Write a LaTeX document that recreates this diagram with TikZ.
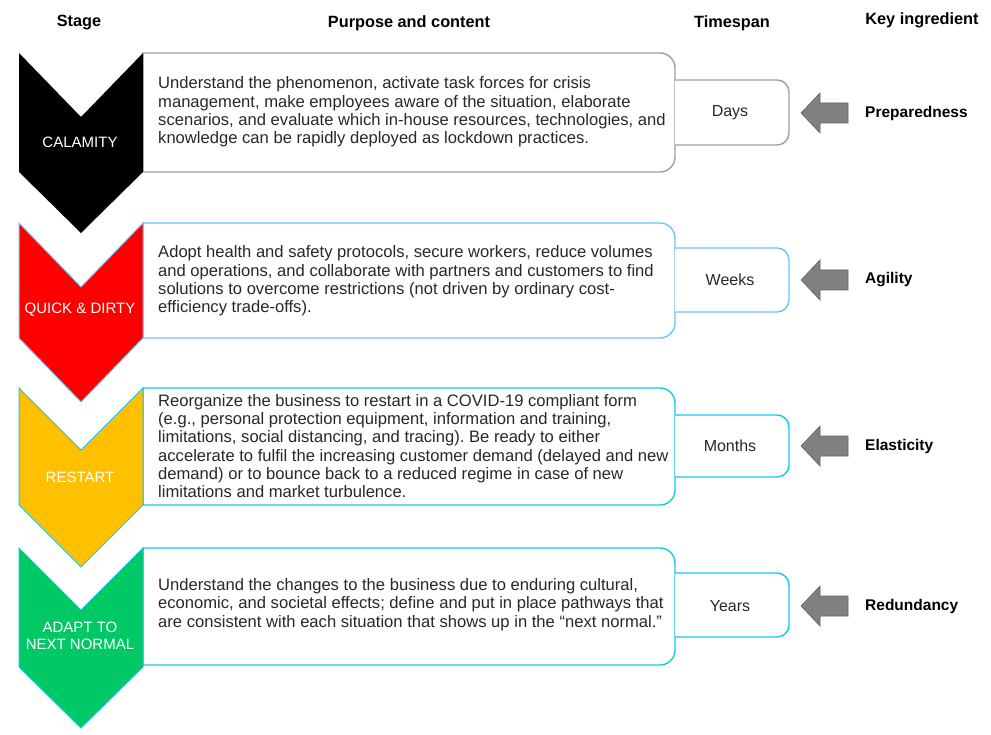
\documentclass[tikz,border=0pt]{standalone}
\usepackage{fontspec}
\setmainfont{Liberation Sans}
\frenchspacing
\definecolor{txt}{RGB}{40,40,40}
\definecolor{grayline}{RGB}{160,160,160}
\definecolor{lblue}{RGB}{110,195,245}
\definecolor{cyanline}{RGB}{20,200,240}
\definecolor{chred}{RGB}{255,0,0}
\definecolor{chyel}{RGB}{255,192,0}
\definecolor{chgrn}{RGB}{0,200,100}
\definecolor{arrfill}{RGB}{128,128,128}
\definecolor{arrline}{RGB}{100,100,100}
\tikzset{
  hdr/.style={font=\fontsize{16.3}{18}\selectfont\bfseries, text=black, inner sep=0pt},
  body/.style={font=\fontsize{16.6}{18.3}\selectfont, text=txt, align=left, anchor=west, inner sep=0pt},
  stagelbl/.style={font=\fontsize{15}{17}\selectfont, text=white, align=center, inner sep=0pt},
  spanlbl/.style={font=\fontsize{16}{18}\selectfont, text=txt, inner sep=0pt},
  keylbl/.style={font=\fontsize{15.5}{18}\selectfont\bfseries, text=black, anchor=west, inner sep=0pt},
  boxline/.style={line width=1.4pt, fill=white},
  blockarrow/.style={fill=arrfill, draw=arrline, line width=0.6pt}
}
\begin{document}
\begin{tikzpicture}[x=1pt,y=-1pt]
\useasboundingbox (0,0) rectangle (991,735);
\fill[white] (0,0) rectangle (991,735);

% headers
\node[hdr] (hstage) at (79,23) {Stage};
\node[hdr] (hpurpose) at (409,23) {Purpose and content};
\node[hdr] (hspan) at (732,23) {Timespan};
\node[hdr] (hkey) at (922,20) {Key ingredient};

% ---------- row 1 ----------
\draw[boxline, draw=grayline] (143,53) -- (660,53) arc[start angle=-90,end angle=0,radius=15] -- (675,157) arc[start angle=0,end angle=90,radius=15] -- (143,172) -- cycle;
\draw[boxline, draw=grayline] (675,80) -- (777,80) arc[start angle=-90,end angle=0,radius=12] -- (789,133) arc[start angle=0,end angle=90,radius=12] -- (675,145);
\fill[black] (19,53) -- (81,117) -- (143,53) -- (143,172) -- (81,233) -- (19,172) -- cycle;
\node[stagelbl] (s1) at (80,142) {CALAMITY};
\node[body] (b1) at (158,112) {Understand the phenomenon, activate task forces for crisis\\management, make employees aware of the situation, elaborate\\scenarios, and evaluate which in-house resources, technologies, and\\knowledge can be rapidly deployed as lockdown practices.};
\node[spanlbl] (t1) at (730,113) {Days};
\draw[blockarrow] (801,113) -- (820,93) -- (820,103) -- (848,103) -- (848,123) -- (820,123) -- (820,133) -- cycle;
\node[keylbl] (k1) at (865,113) {Preparedness};

% ---------- row 2 ----------
\draw[boxline, draw=lblue] (143,223) -- (660,223) arc[start angle=-90,end angle=0,radius=15] -- (675,323) arc[start angle=0,end angle=90,radius=15] -- (143,338) -- cycle;
\draw[boxline, draw=lblue] (675,248) -- (777,248) arc[start angle=-90,end angle=0,radius=12] -- (789,300) arc[start angle=0,end angle=90,radius=12] -- (675,312);
\draw[fill=chred, draw=lblue, line width=1pt] (19,223) -- (81,287) -- (143,223) -- (143,338) -- (81,402) -- (19,338) -- cycle;
\node[stagelbl] (s2) at (80,310) {QUICK \& DIRTY};
\node[body] (b2) at (158,281) {Adopt health and safety protocols, secure workers, reduce volumes\\and operations, and collaborate with partners and customers to find\\solutions to overcome restrictions (not driven by ordinary cost-\\efficiency trade-offs).};
\node[spanlbl] (t2) at (730,280) {Weeks};
\draw[blockarrow] (801,280) -- (820,260) -- (820,270) -- (848,270) -- (848,290) -- (820,290) -- (820,300) -- cycle;
\node[keylbl] (k2) at (865,280) {Agility};

% ---------- row 3 ----------
\draw[boxline, draw=cyanline] (143,388) -- (660,388) arc[start angle=-90,end angle=0,radius=15] -- (675,490) arc[start angle=0,end angle=90,radius=15] -- (143,505) -- cycle;
\draw[boxline, draw=cyanline] (675,415) -- (777,415) arc[start angle=-90,end angle=0,radius=12] -- (789,465) arc[start angle=0,end angle=90,radius=12] -- (675,477);
\draw[fill=chyel, draw=cyanline, line width=1pt] (19,388) -- (81,450) -- (143,388) -- (143,505) -- (81,567) -- (19,505) -- cycle;
\node[stagelbl] (s3) at (80,477) {RESTART};
\node[body] (b3) at (158,446) {Reorganize the business to restart in a COVID-19 compliant form\\(e.g., personal protection equipment, information and training,\\limitations, social distancing, and tracing). Be ready to either\\accelerate to fulfil the increasing customer demand (delayed and new\\demand) or to bounce back to a reduced regime in case of new\\limitations and market turbulence.};
\node[spanlbl] (t3) at (730,446) {Months};
\draw[blockarrow] (801,446) -- (820,426) -- (820,436) -- (848,436) -- (848,456) -- (820,456) -- (820,466) -- cycle;
\node[keylbl] (k3) at (865,446) {Elasticity};

% ---------- row 4 ----------
\draw[boxline, draw=cyanline] (143,548) -- (660,548) arc[start angle=-90,end angle=0,radius=15] -- (675,650) arc[start angle=0,end angle=90,radius=15] -- (143,665) -- cycle;
\draw[boxline, draw=cyanline] (675,573) -- (777,573) arc[start angle=-90,end angle=0,radius=12] -- (789,625) arc[start angle=0,end angle=90,radius=12] -- (675,637);
\draw[fill=chgrn, draw=cyanline, line width=1pt] (19,548) -- (81,610) -- (143,548) -- (143,667) -- (81,728) -- (19,667) -- cycle;
\node[stagelbl] (s4) at (80,636) {ADAPT TO\\NEXT NORMAL};
\node[body] (b4) at (158,604.5) {Understand the changes to the business due to enduring cultural,\\economic, and societal effects; define and put in place pathways that\\are consistent with each situation that shows up in the “next normal.”};
\node[spanlbl] (t4) at (730,606) {Years};
\draw[blockarrow] (801,606) -- (820,586) -- (820,596) -- (848,596) -- (848,616) -- (820,616) -- (820,626) -- cycle;
\node[keylbl] (k4) at (865,606) {Redundancy};
\end{tikzpicture}
\end{document}
